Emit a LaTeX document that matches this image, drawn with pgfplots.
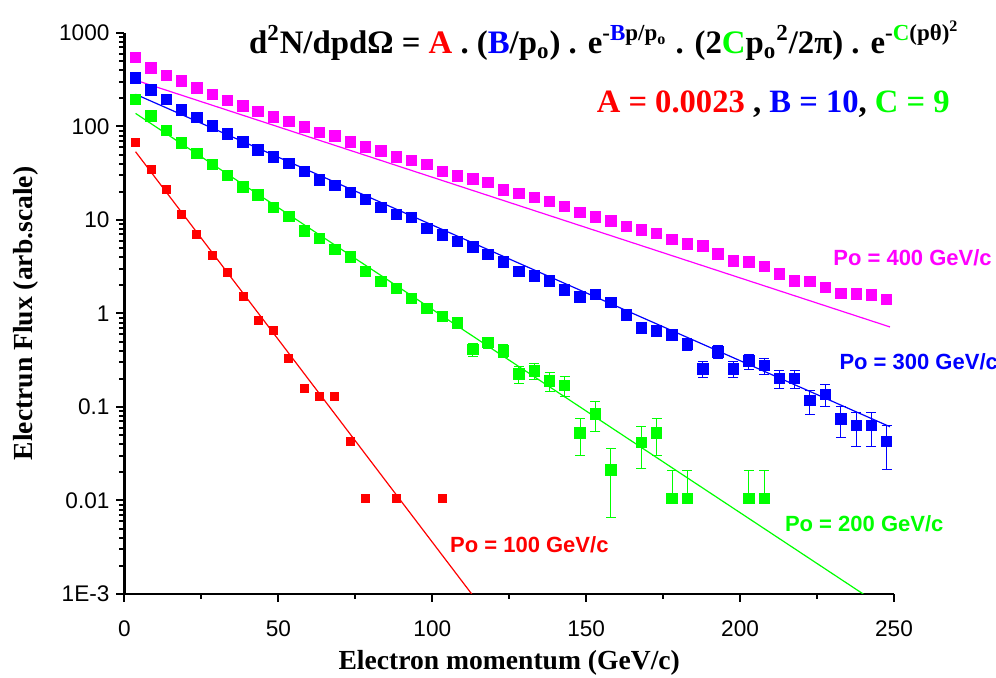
\documentclass[border=0pt]{standalone}
\usepackage{pgfplots}
\usepackage{pgfplotstable}
\pgfplotsset{compat=1.18}
\usepackage{fontspec}
\setmainfont{Liberation Serif}
\newfontfamily\arial{Liberation Sans}

\definecolor{cmag}{RGB}{255,0,255}
\definecolor{cblue}{RGB}{0,0,255}
\definecolor{cgreen}{RGB}{0,255,0}
\definecolor{cred}{RGB}{255,0,0}

% p0 = 400 GeV/c
\pgfplotstableread{
x y e
3.6 550 2.35
8.6 425 2.06
13.6 353 1.88
18.5 307 1.75
23.5 258 1.61
28.5 221 1.49
33.5 189 1.37
38.5 166 1.29
43.4 144 1.20
48.4 127 1.13
53.4 113 1.06
58.4 99.5 1.00
63.4 86.7 0.93
68.3 79.1 0.89
73.3 68.3 0.83
78.3 60.8 0.78
83.3 55.1 0.74
88.3 47.5 0.69
93.2 43.1 0.66
98.2 39.4 0.63
103.2 33.2 0.58
108.2 29.5 0.54
113.2 27.5 0.52
118.1 25.3 0.50
123.1 20.9 0.46
128.1 19.3 0.44
133.1 17.5 0.42
138.1 15.7 0.40
143.0 13.9 0.37
148.0 12.1 0.35
153.0 10.8 0.33
158.0 9.76 0.31
163.0 8.48 0.29
167.9 7.82 0.28
172.9 7.21 0.27
177.9 6.22 0.25
182.9 5.54 0.24
187.9 5.27 0.23
192.8 4.33 0.21
197.8 3.67 0.19
202.8 3.58 0.19
207.8 3.17 0.18
212.8 2.64 0.16
217.7 2.24 0.15
222.7 2.19 0.15
227.7 1.91 0.14
232.7 1.64 0.13
237.7 1.62 0.13
242.6 1.58 0.13
247.6 1.42 0.12
}\magtab

% p0 = 300 GeV/c
\pgfplotstableread{
x y e
3.6 330 1.82
8.6 246 1.57
13.6 195 1.40
18.5 150 1.22
23.5 125 1.12
28.5 101 1.00
33.5 83.2 0.91
38.5 68.3 0.83
43.4 56.1 0.75
48.4 47.5 0.69
53.4 40.4 0.64
58.4 32.9 0.57
63.4 26.8 0.52
68.3 23.3 0.48
73.3 19.6 0.44
78.3 16.6 0.41
83.3 13.7 0.37
88.3 11.5 0.34
93.2 10.6 0.33
98.2 8.15 0.29
103.2 6.91 0.26
108.2 5.86 0.24
113.2 5.18 0.23
118.1 4.30 0.21
123.1 3.58 0.19
128.1 2.80 0.17
133.1 2.52 0.16
138.1 2.23 0.15
143.0 1.78 0.13
148.0 1.51 0.12
153.0 1.60 0.13
158.0 1.31 0.11
163.0 0.964 0.098
167.9 0.700 0.084
172.9 0.650 0.081
177.9 0.589 0.077
182.9 0.469 0.068
187.9 0.255 0.050
192.8 0.390 0.062
197.8 0.255 0.050
202.8 0.310 0.056
207.8 0.277 0.053
212.8 0.203 0.045
217.7 0.203 0.045
222.7 0.117 0.034
227.7 0.137 0.037
232.7 0.0745 0.027
237.7 0.0631 0.025
242.6 0.0631 0.025
247.6 0.0426 0.021
}\bluetab

% p0 = 200 GeV/c
\pgfplotstableread{
x y ep em
3.6 195 1.40 1.40
8.6 129.5 1.14 1.14
13.6 90.2 0.95 0.95
18.5 67.1 0.82 0.82
23.5 51.7 0.72 0.72
28.5 39.4 0.63 0.63
33.5 29.8 0.55 0.55
38.5 22.5 0.47 0.47
43.4 18.5 0.43 0.43
48.4 13.7 0.37 0.37
53.4 11.0 0.33 0.33
58.4 7.62 0.28 0.28
63.4 6.37 0.25 0.25
68.3 4.86 0.22 0.22
73.3 4.05 0.20 0.20
78.3 2.80 0.17 0.17
83.3 2.19 0.15 0.15
88.3 1.86 0.14 0.14
93.2 1.45 0.12 0.12
98.2 1.14 0.11 0.11
103.2 0.925 0.096 0.096
108.2 0.790 0.089 0.089
113.2 0.414 0.064 0.064
118.1 0.488 0.070 0.070
123.1 0.400 0.063 0.063
128.1 0.225 0.047 0.047
133.1 0.244 0.049 0.049
138.1 0.191 0.044 0.044
143.0 0.169 0.041 0.041
148.0 0.0531 0.023 0.023
153.0 0.0841 0.029 0.029
158.0 0.0212 0.0146 0.0146
167.9 0.0419 0.020 0.020
172.9 0.0531 0.023 0.023
177.9 0.0106 0.0103 0
182.9 0.0106 0.0103 0
202.8 0.0106 0.0103 0
207.8 0.0106 0.0103 0
}\greentab

% p0 = 100 GeV/c
\pgfplotstableread{
x y
3.6 67.1
8.6 34.8
13.6 21.3
18.5 11.5
23.5 7.03
28.5 4.15
33.5 2.76
38.5 1.51
43.4 0.845
48.4 0.655
53.4 0.332
58.4 0.158
63.4 0.129
68.3 0.129
73.3 0.0426
78.3 0.0106
88.3 0.0106
103.2 0.0106
}\redtab

\begin{document}
\begin{tikzpicture}
\begin{axis}[
  name=ax,
  scale only axis,
  width=384.75pt, height=280.5pt,
  xmin=0, xmax=250,
  ymode=log, ymin=0.001, ymax=1000,
  axis x line=bottom, axis y line=left,
  axis line style={-, line width=1.3pt},
  tick align=outside,
  tick style={black, line width=1pt},
  major tick length=4pt, minor tick length=2.5pt,
  xtick={0,50,100,150,200,250},
  xticklabels={0,50,100,150,200,250},
  minor x tick num=1,
  ytick={0.001,0.01,0.1,1,10,100,1000},
  yticklabels={1E-3,0.01,0.1,1,10,100,1000},
  ticklabel style={font=\arial\fontsize{11.3}{13}\selectfont},
  xticklabel style={yshift=-6pt},
  xlabel={\textbf{Electron momentum (GeV/c)}},
  ylabel={\textbf{Electrun Flux (arb.scale)}},
  label style={font=\fontsize{13.8}{16}\selectfont},
  xlabel style={at={(axis description cs:0.5,-0.122)}, anchor=center},
  ylabel style={at={(axis description cs:-0.128,0.5)}, anchor=center},
  clip mode=individual,
  error bars/error bar style={line width=0.5pt},
  error bars/error mark options={rotate=90, mark size=2.5pt, line width=0.5pt},
]
% fitted curves
\addplot[cmag, line width=0.6pt, mark=none] coordinates {(3.6,313) (248.7,0.718)};
\addplot[cblue, line width=0.6pt, mark=none] coordinates {(3.6,221) (248.7,0.0615)};
\addplot[cgreen, line width=0.6pt, mark=none] coordinates {(3.6,138) (240,0.001)};
\addplot[cred, line width=0.6pt, mark=none] coordinates {(3.6,53.7) (112.8,0.001)};

% data
\addplot[cmag, only marks, mark=square*, mark size=2.6pt,
  error bars/.cd, y dir=both, y explicit]
  table[x=x, y=y, y error=e] {\magtab};
\addplot[cblue, only marks, mark=square*, mark size=2.6pt,
  error bars/.cd, y dir=both, y explicit]
  table[x=x, y=y, y error=e] {\bluetab};
\addplot[cgreen, only marks, mark=square*, mark size=2.6pt,
  error bars/.cd, y dir=both, y explicit]
  table[x=x, y=y, y error plus=ep, y error minus=em] {\greentab};
\addplot[cred, only marks, mark=square*, mark size=2pt]
  table[x=x, y=y] {\redtab};

% curve labels
\node[anchor=west, text=cmag, font=\arial\bfseries\fontsize{11}{13}\selectfont] at (axis cs:228,3.93) {Po = 400 GeV/c};
\node[anchor=west, text=cblue, font=\arial\bfseries\fontsize{11}{13}\selectfont] at (axis cs:230,0.303) {Po = 300 GeV/c};
\node[anchor=west, text=cgreen, font=\arial\bfseries\fontsize{11}{13}\selectfont] at (axis cs:212.3,0.0056) {Po = 200 GeV/c};
\node[anchor=west, text=cred, font=\arial\bfseries\fontsize{11}{13}\selectfont] at (axis cs:103.5,0.0034) {Po = 100 GeV/c};

% formula
\node[anchor=base east, inner sep=0pt, font=\bfseries\fontsize{16.4}{20}\selectfont] at (axis cs:271.4,611)
  {d\textsuperscript{2}N/dpdΩ = \textcolor{cred}{A} . (\textcolor{cblue}{B}/p\textsubscript{o}) . e\textsuperscript{-\textcolor{cblue}{B}p/p\textsubscript{o}} . (2\textcolor{cgreen}{C}p\textsubscript{o}\textsuperscript{2}/2π) . e\textsuperscript{-\textcolor{cgreen}{C}(pθ)\textsuperscript{2}}};
\node[anchor=base east, inner sep=0pt, font=\bfseries\fontsize{16.3}{20}\selectfont] at (axis cs:268.2,140)
  {\textcolor{cred}{A = 0.0023} , \textcolor{cblue}{B = 10}, \textcolor{cgreen}{C = 9}};
\end{axis}
\pgfresetboundingbox
\path[use as bounding box] ([shift={(-62.25pt,-42pt)}]ax.south west) rectangle ([shift={(51pt,16.5pt)}]ax.north east);
\end{tikzpicture}
\end{document}
